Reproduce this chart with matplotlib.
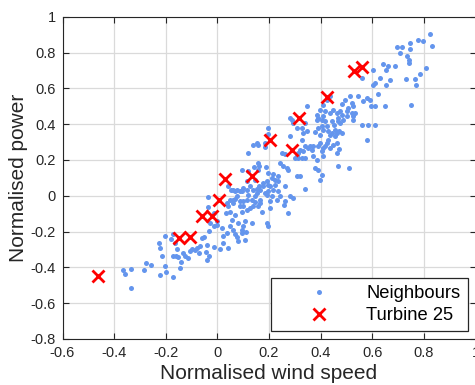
import matplotlib
matplotlib.use("Agg")
import matplotlib.pyplot as plt

plt.rcParams['font.family'] = ['Liberation Sans', 'DejaVu Sans']
plt.rcParams['axes.unicode_minus'] = False

# Neighbours (normalised wind speed, normalised power)
neigh_x = [
    -0.226, -0.222, -0.201, -0.178, -0.170, -0.164, -0.157, -0.215, -0.173, -0.162,
    -0.151, -0.140, -0.134, -0.125, -0.115, -0.106, -0.099, -0.086, -0.077, -0.070,
    -0.067, -0.060, -0.050, -0.041, -0.044, -0.041, -0.033, -0.031, -0.144, -0.170,
    -0.201, -0.200, -0.224, -0.258, -0.277, -0.285, -0.333, -0.367, -0.358, -0.333,
    -0.035, -0.013, -0.003, -0.015, 0.017, 0.023, 0.036, 0.043, 0.023, 0.032,
    0.040, 0.049, 0.049, 0.055, 0.062, 0.068, 0.062, 0.081, 0.094, 0.101,
    0.107, 0.094, 0.101, 0.088, 0.094, 0.098, 0.114, 0.120, 0.133, 0.139,
    0.146, 0.152, 0.165, 0.172, 0.161, 0.178, 0.185, 0.191, 0.197, 0.204,
    0.197, 0.204, 0.204, 0.210, 0.191, 0.197, 0.217, 0.223, 0.236, 0.236,
    0.243, 0.243, 0.255, 0.262, 0.268, 0.275, 0.258, 0.275, 0.281, 0.292,
    0.307, 0.320, 0.339, 0.120, 0.139, 0.159, 0.197, 0.197, 0.185, 0.249,
    0.281, 0.288, 0.294, 0.307, 0.307, 0.314, 0.320, 0.326, 0.333, 0.346,
    0.348, 0.339, 0.359, 0.372, 0.378, 0.391, 0.404, 0.385, 0.404, 0.410,
    0.417, 0.423, 0.430, 0.436, 0.449, 0.443, 0.423, 0.410, 0.391, 0.385,
    0.385, 0.410, 0.417, 0.397, 0.410, 0.423, 0.436, 0.449, 0.462, 0.468,
    0.475, 0.481, 0.488, 0.494, 0.501, 0.514, 0.520, 0.524, 0.526, 0.475,
    0.455, 0.462, 0.481, 0.468, 0.511, 0.565, 0.578, 0.597, 0.610, 0.623,
    0.649, 0.585, 0.610, 0.559, 0.578, 0.546, 0.604, 0.610, 0.604, 0.630,
    0.643, 0.655, 0.662, 0.655, 0.668, 0.688, 0.694, 0.714, 0.707, 0.733,
    0.743, 0.746, 0.746, 0.743, 0.765, 0.769, 0.778, 0.785, 0.797, 0.810,
    0.823, 0.830, 0.752, 0.559, 0.591, 0.159, 0.120, 0.094, 0.088, 0.075,
    0.062, 0.052, 0.036, 0.043, 0.062,
    0.481, 0.507, 0.501, 0.520, 0.533, 0.468, 0.417, 0.391, 0.404, 0.378,
    0.397, 0.430, 0.410, 0.391, 0.372, 0.365, 0.352, 0.333, 0.326,
    0.142, 0.187, 0.214, 0.210, 0.152, 0.163, 0.128, 0.075, -0.037, 0.068,
    0.101, 0.146, 0.159, 0.088, 0.114, 0.126, 0.068, -0.028, -0.003, 0.081,
    0.049, 0.094, 0.110, 0.068, 0.075, 0.133, 0.107, -0.015, 0.010,
    0.436, 0.443, 0.453, 0.472, 0.404, 0.436, 0.455, 0.462, 0.472, 0.397,
    0.339, 0.301, 0.314, 0.326, 0.339, 0.281, 0.152, 0.185, 0.262, 0.159,
    0.114, 0.146, 0.178, 0.223, 0.197, 0.236, 0.191, 0.165, 0.139, 0.114,
    0.165, 0.230, 0.262, 0.397, 0.462, 0.730, 0.526,
]
neigh_y = [
    -0.264, -0.294, -0.227, -0.242, -0.212, -0.264, -0.298, -0.335, -0.339, -0.335,
    -0.343, -0.371, -0.320, -0.335, -0.345, -0.311, -0.298, -0.302, -0.292, -0.320,
    -0.279, -0.236, -0.231, -0.274, -0.315, -0.361, -0.199, -0.339, -0.404, -0.451,
    -0.395, -0.426, -0.445, -0.385, -0.378, -0.415, -0.410, -0.413, -0.438, -0.516,
    -0.007, -0.097, -0.143, -0.171, -0.181, -0.227, -0.209, -0.292, -0.264, -0.097,
    -0.060, -0.022, -0.088, -0.134, -0.022, 0.024, -0.190, -0.255, -0.209, -0.171,
    -0.143, -0.088, -0.060, -0.032, 0.024, 0.043, -0.022, 0.006, -0.022, -0.060,
    -0.004, 0.015, -0.041, -0.088, 0.164, 0.052, 0.015, 0.080, 0.061, 0.052,
    0.127, -0.032, -0.069, -0.004, -0.153, -0.171, 0.034, 0.061, 0.108, 0.080,
    -0.004, 0.182, 0.164, 0.052, 0.155, 0.145, -0.050, -0.097, -0.004, -0.013,
    0.108, 0.108, 0.039, 0.238, 0.285, 0.285, 0.378, 0.346, 0.294, 0.238,
    0.331, 0.425, 0.406, 0.378, 0.220, 0.238, 0.257, 0.313, 0.350, 0.359,
    0.499, 0.210, 0.276, 0.220, 0.155, 0.145, 0.117, 0.201, 0.248, 0.220,
    0.276, 0.294, 0.313, 0.266, 0.285, 0.350, 0.387, 0.369, 0.378, 0.425,
    0.453, 0.443, 0.415, 0.480, 0.508, 0.536, 0.555, 0.480, 0.462, 0.434,
    0.406, 0.453, 0.425, 0.536, 0.443, 0.555, 0.518, 0.443, 0.425, 0.471,
    0.369, 0.350, 0.350, 0.164, 0.155, 0.527, 0.546, 0.499, 0.499, 0.568,
    0.499, 0.397, 0.397, 0.397, 0.313, 0.555, 0.620, 0.629, 0.700, 0.657,
    0.737, 0.704, 0.723, 0.620, 0.648, 0.723, 0.829, 0.829, 0.797, 0.778,
    0.760, 0.853, 0.819, 0.741, 0.652, 0.620, 0.872, 0.682, 0.862, 0.713,
    0.903, 0.834, 0.508, 0.657, 0.536, 0.182, 0.136, 0.145, 0.024, -0.004,
    -0.041, 0.034, -0.041, 0.052, 0.034,
    0.514, 0.490, 0.471, 0.462, 0.462, 0.415, 0.471, 0.434, 0.425, 0.354,
    0.341, 0.359, 0.266, 0.276, 0.276, 0.253, 0.266, 0.248, 0.210,
    0.160, 0.160, 0.123, 0.099, 0.037, 0.052, 0.052, 0.034, -0.065, -0.019,
    -0.032, -0.037, -0.060, -0.060, -0.078, -0.069, -0.106, -0.153, -0.162, -0.153,
    -0.171, -0.190, -0.205, -0.212, -0.231, -0.153, -0.246, -0.287, -0.298,
    0.462, 0.415, 0.397, 0.359, 0.387, 0.341, 0.331, 0.294, 0.261, 0.294,
    0.276, 0.210, 0.210, 0.378, 0.406, 0.434, 0.294, 0.272, 0.235, 0.142,
    0.080, 0.089, 0.071, 0.089, 0.024, 0.024, 0.006, 0.034, 0.034, 0.034,
    -0.022, -0.022, -0.032, 0.089, 0.238, 0.654, 0.499,
]

# Turbine 25
turb_x = [-0.461, -0.147, -0.106, -0.061, -0.022, 0.008, 0.030, 0.135,
          0.204, 0.288, 0.317, 0.423, 0.529, 0.559]
turb_y = [-0.447, -0.236, -0.231, -0.115, -0.112, -0.022, 0.095, 0.108,
          0.313, 0.257, 0.434, 0.549, 0.695, 0.717]

x_ticks = [-0.6, -0.4, -0.2, 0, 0.2, 0.4, 0.6, 0.8, 1]
x_labels = ['-0.6', '-0.4', '-0.2', '0', '0.2', '0.4', '0.6', '0.8', '1']
y_ticks = [-0.8, -0.6, -0.4, -0.2, 0, 0.2, 0.4, 0.6, 0.8, 1]
y_labels = ['-0.8', '-0.6', '-0.4', '-0.2', '0', '0.2', '0.4', '0.6', '0.8', '1']

fig = plt.figure(figsize=(4.75, 3.85), dpi=100)
ax = fig.add_axes([62.5 / 475, 46 / 385, (475.5 - 62.5) / 475, (339 - 16.7) / 385])

dark = '#262626'
ax.plot(neigh_x, neigh_y, linestyle='none', marker='o', markersize=3.6,
        color='#6495ED', markeredgewidth=0, label='Neighbours')
ax.plot(turb_x, turb_y, linestyle='none', marker='x', markersize=8.5,
        markeredgewidth=2.0, color='#FF0000', label='Turbine 25')

ax.set_xlim(-0.6, 1)
ax.set_ylim(-0.8, 1)
ax.set_xticks(x_ticks)
ax.set_xticklabels(x_labels)
ax.set_yticks(y_ticks)
ax.set_yticklabels(y_labels)
ax.grid(True, color='#dadada', linewidth=0.9)
ax.set_axisbelow(True)
ax.tick_params(direction='in', length=4, width=0.8, colors=dark,
               labelsize=10.5, top=True, right=True, pad=5)
for s in ax.spines.values():
    s.set_color(dark)
    s.set_linewidth(0.8)

ax.set_xlabel('Normalised wind speed', fontsize=15, color=dark, labelpad=3)
ax.set_ylabel('Normalised power', fontsize=15, color=dark, labelpad=2)

leg = ax.legend(loc='lower right', fontsize=13.2, numpoints=1, fancybox=False,
                framealpha=1, edgecolor=dark, borderpad=0.4, handlelength=4.4,
                handletextpad=0.4, labelspacing=0.25, borderaxespad=0.42)
leg.get_frame().set_linewidth(0.9)
for t in leg.get_texts():
    t.set_color('black')

fig.savefig('out.png', dpi=100)
